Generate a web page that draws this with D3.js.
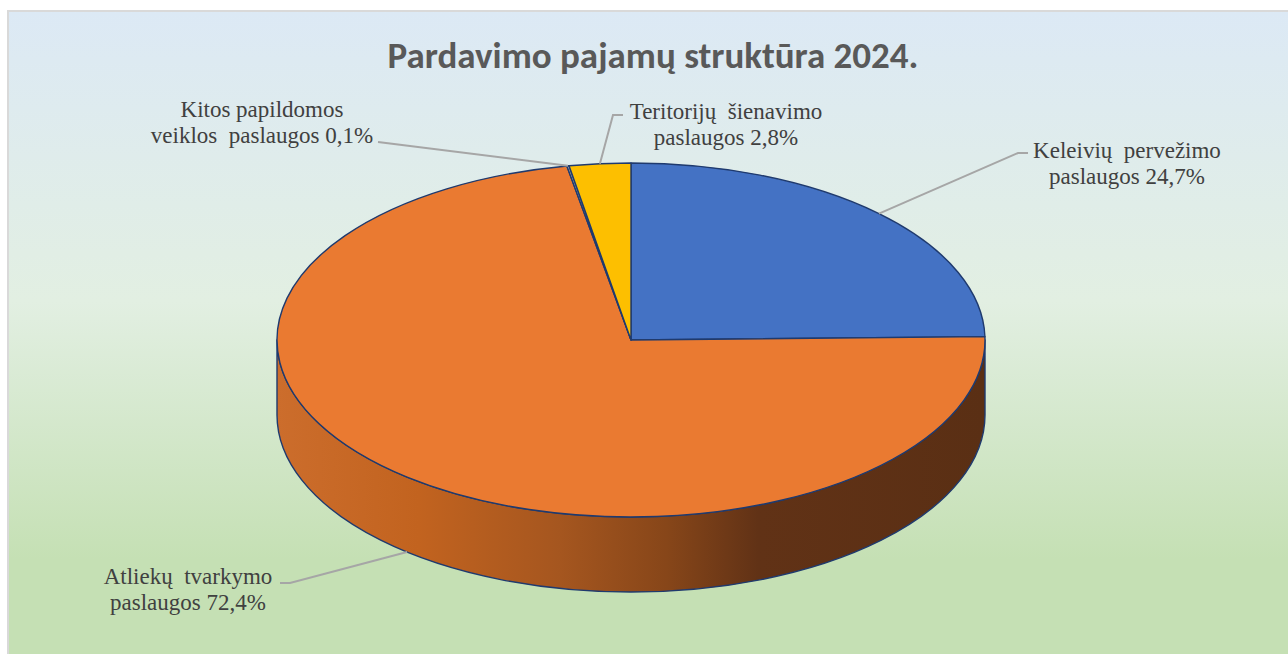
<!DOCTYPE html>
<html>
<head>
<meta charset="utf-8">
<script src="https://cdn.jsdelivr.net/npm/d3@7/dist/d3.min.js"></script>
<style>
html,body{margin:0;padding:0;background:#fff;}
svg{display:block;}
</style>
</head>
<body>
<svg id="chart" width="1288" height="654"></svg>
<script>
// ---- data ----
const title = "Pardavimo pajamų struktūra 2024.";
const categories = ["Keleivių  pervežimo", "Atliekų  tvarkymo", "Kitos papildomos", "Teritorijų  šienavimo"];
const labelSecondLines = ["paslaugos 24,7%", "paslaugos 72,4%", "veiklos  paslaugos 0,1%", "paslaugos 2,8%"];
const values = [24.7, 72.4, 0.1, 2.8];
const colors = ["#4472c4", "#ea7a31", "#a5a5a5", "#fdbf00"];

// ---- layout ----
const W = 1288, H = 654;
const svg = d3.select("#chart");
const defs = svg.append("defs");

const bg = defs.append("linearGradient").attr("id","bg").attr("x1",0).attr("y1",0).attr("x2",0).attr("y2",1);
[[0,"#dce9f5"],[0.45,"#e2efe2"],[0.85,"#c5e0b4"],[1,"#c5e0b4"]].forEach(([o,c])=>bg.append("stop").attr("offset",o).attr("stop-color",c));

const side = defs.append("linearGradient").attr("id","side").attr("x1",0).attr("y1",0).attr("x2",1).attr("y2",0);
[[0,"#cc6d2c"],[0.2,"#c2631f"],[0.4,"#a5561f"],[0.55,"#874619"],[0.68,"#613216"],[1,"#5a2f14"]].forEach(([o,c])=>side.append("stop").attr("offset",o).attr("stop-color",c));

svg.append("rect").attr("x",8).attr("y",11).attr("width",W-8+2).attr("height",H-11+2)
  .attr("fill","url(#bg)").attr("stroke","#d9d9d9").attr("stroke-width",2);

svg.append("text").attr("x",653).attr("y",68).attr("text-anchor","middle")
  .style("font-family","Carlito, 'Open Sans', sans-serif").style("font-weight","bold")
  .style("font-size","37px").attr("fill","#595959").text(title);

const cx = 631, cy = 340, rx = 354, ry = 177, depth = 75;
const pie = d3.pie().sort(null).value(d=>d)(values);
const P = (a, dy=0) => [cx + rx*Math.sin(a), cy - ry*Math.cos(a) + dy];
const stroke = "#1f3a6e";

// side walls (front half only: angles PI/2 .. 3PI/2)
pie.forEach((s,i)=>{
  const s0 = Math.max(s.startAngle, Math.PI/2), s1 = Math.min(s.endAngle, 3*Math.PI/2);
  if (s1 <= s0) return;
  const a = P(s0), b = P(s1), b2 = P(s1, depth), a2 = P(s0, depth);
  const large = (s1 - s0) > Math.PI ? 1 : 0;
  const d = `M${a}A${rx},${ry} 0 ${large} 1 ${b}L${b2}A${rx},${ry} 0 ${large} 0 ${a2}Z`;
  svg.append("path").attr("d",d).attr("fill", i===1 ? "url(#side)" : d3.color(colors[i]).darker(1))
    .attr("stroke",stroke).attr("stroke-width",1.4).attr("stroke-linejoin","round");
});

// top faces
pie.forEach((s,i)=>{
  const a = P(s.startAngle), b = P(s.endAngle);
  const large = (s.endAngle - s.startAngle) > Math.PI ? 1 : 0;
  const d = `M${cx},${cy}L${a}A${rx},${ry} 0 ${large} 1 ${b}Z`;
  svg.append("path").attr("d",d).attr("fill",colors[i])
    .attr("stroke",stroke).attr("stroke-width",1.4).attr("stroke-linejoin","round");
});

// labels
const labelPos = [
  {x:1127, y:158, elbow:[1018,153], start:[1028,153], dy:0},
  {x:188, y:584, elbow:[290,583], start:[280,583], dy:depth},
  {x:262, y:117, elbow:null, start:[378,142], dy:0},
  {x:726, y:119, elbow:[613,115], start:[623,115], dy:0}
];
pie.forEach((s,i)=>{
  const lp = labelPos[i];
  const mid = (s.startAngle + s.endAngle)/2;
  const end = P(mid, lp.dy);
  const pts = [lp.start].concat(lp.elbow ? [lp.elbow] : []).concat([end]);
  svg.append("path").attr("d", d3.line()(pts)).attr("fill","none")
    .attr("stroke","#a6a6a6").attr("stroke-width",2);
  const t = svg.append("text")
    .style("font-family",'"Liberation Serif", Tinos, serif').style("font-size","23px")
    .style("white-space","pre").attr("fill","#404040").attr("text-anchor","middle");
  t.append("tspan").attr("x",lp.x).attr("y",lp.y).text(categories[i]);
  t.append("tspan").attr("x",lp.x).attr("y",lp.y+26).text(labelSecondLines[i]);
});
</script>
</body>
</html>
